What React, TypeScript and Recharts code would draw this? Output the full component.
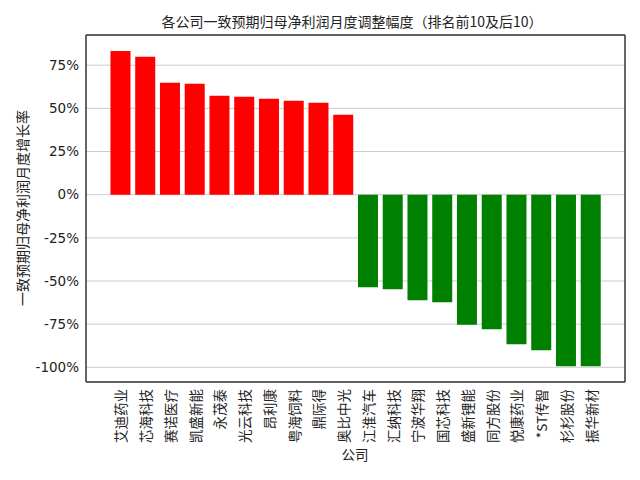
import React from 'react';
import { BarChart, Bar, XAxis, YAxis, CartesianGrid, Cell } from 'recharts';

const companies = [
  '艾迪药业', '芯海科技', '赛诺医疗', '凯盛新能', '永茂泰', '光云科技', '昂利康', '粤海饲料', '鼎际得', '奥比中光',
  '江淮汽车', '汇纳科技', '宁波华翔', '国芯科技', '盛新锂能', '同方股份', '悦康药业', '*ST传智', '杉杉股份', '振华新材',
];
const changes = [
  0.833, 0.799, 0.648, 0.642, 0.573, 0.567, 0.556, 0.544, 0.532, 0.463,
  -0.536, -0.548, -0.612, -0.623, -0.754, -0.779, -0.866, -0.901, -0.994, -0.994,
];
const yTicks = [-1, -0.75, -0.5, -0.25, 0, 0.25, 0.5, 0.75];
const yDomain = [-1.085, 0.925];

const data = companies.map((name, i) => ({ name, value: changes[i] }));

const FONT = '"DejaVu Sans", "Noto Sans CJK SC", sans-serif';
const CJK = '"Noto Sans CJK SC", "DejaVu Sans", sans-serif';

const XTick = (props: any) => {
  const { x, y, payload } = props;
  return (
    <text
      transform={`translate(${x},${y + 7}) rotate(-90)`}
      textAnchor="end"
      dominantBaseline="central"
      fontSize={13.5}
      fontFamily={CJK}
      fill="#222"
    >
      {payload.value}
    </text>
  );
};

export default function App() {
  return (
    <div style={{ position: 'absolute', left: 0, top: 0, width: 640, height: 480, background: '#fff' }}>
      <div
        style={{
          position: 'absolute', left: 0, top: 11, width: 704, textAlign: 'center',
          fontFamily: CJK, fontSize: 14, lineHeight: '20px', color: '#222',
        }}
      >
        各公司一致预期归母净利润月度调整幅度（排名前10及后10）
      </div>
      <div
        style={{
          position: 'absolute', left: 22 - 150, top: 208 - 10, width: 300, height: 20, textAlign: 'center',
          transform: 'rotate(-90deg)', fontFamily: CJK, fontSize: 14, lineHeight: '20px', color: '#222',
        }}
      >
        一致预期归母净利润月度增长率
      </div>
      <div
        style={{
          position: 'absolute', left: 355 - 50, top: 444, width: 100, textAlign: 'center',
          fontFamily: CJK, fontSize: 13.5, lineHeight: '20px', color: '#222',
        }}
      >
        公司
      </div>
      <BarChart
        width={640}
        height={480}
        data={data}
        margin={{ top: 34, right: 14, bottom: 0, left: 0 }}
        barCategoryGap="10%"
      >
        <CartesianGrid vertical={false} stroke="#cccccc" strokeWidth={1} />
        <XAxis
          dataKey="name"
          height={98}
          interval={0}
          padding={{ left: 22, right: 22 }}
          tick={<XTick />}
          tickLine={false}
          tickSize={0}
          tickMargin={0}
          axisLine={{ stroke: '#333', strokeWidth: 1.5 }}
        />
        <XAxis
          xAxisId="top"
          dataKey="name"
          orientation="top"
          height={1}
          tick={false}
          tickLine={false}
          padding={{ left: 22, right: 22 }}
          axisLine={{ stroke: '#333', strokeWidth: 1.5 }}
        />
        <YAxis
          type="number"
          width={86}
          domain={yDomain}
          ticks={yTicks}
          allowDataOverflow
          tickFormatter={(v: number) => `${Math.round(v * 100)}%`}
          tickLine={false}
          tickSize={0}
          tickMargin={7}
          tick={{ fontSize: 13.5, fontFamily: FONT, fill: '#222' }}
          axisLine={{ stroke: '#333', strokeWidth: 1.5 }}
        />
        <YAxis
          yAxisId="right"
          type="number"
          orientation="right"
          width={1}
          domain={yDomain}
          tick={false}
          tickLine={false}
          axisLine={{ stroke: '#333', strokeWidth: 1.5 }}
        />
        <Bar dataKey="value" isAnimationActive={false}>
          {data.map((d, i) => (
            <Cell key={i} fill={d.value >= 0 ? '#ff0000' : '#008000'} />
          ))}
        </Bar>
      </BarChart>
    </div>
  );
}
